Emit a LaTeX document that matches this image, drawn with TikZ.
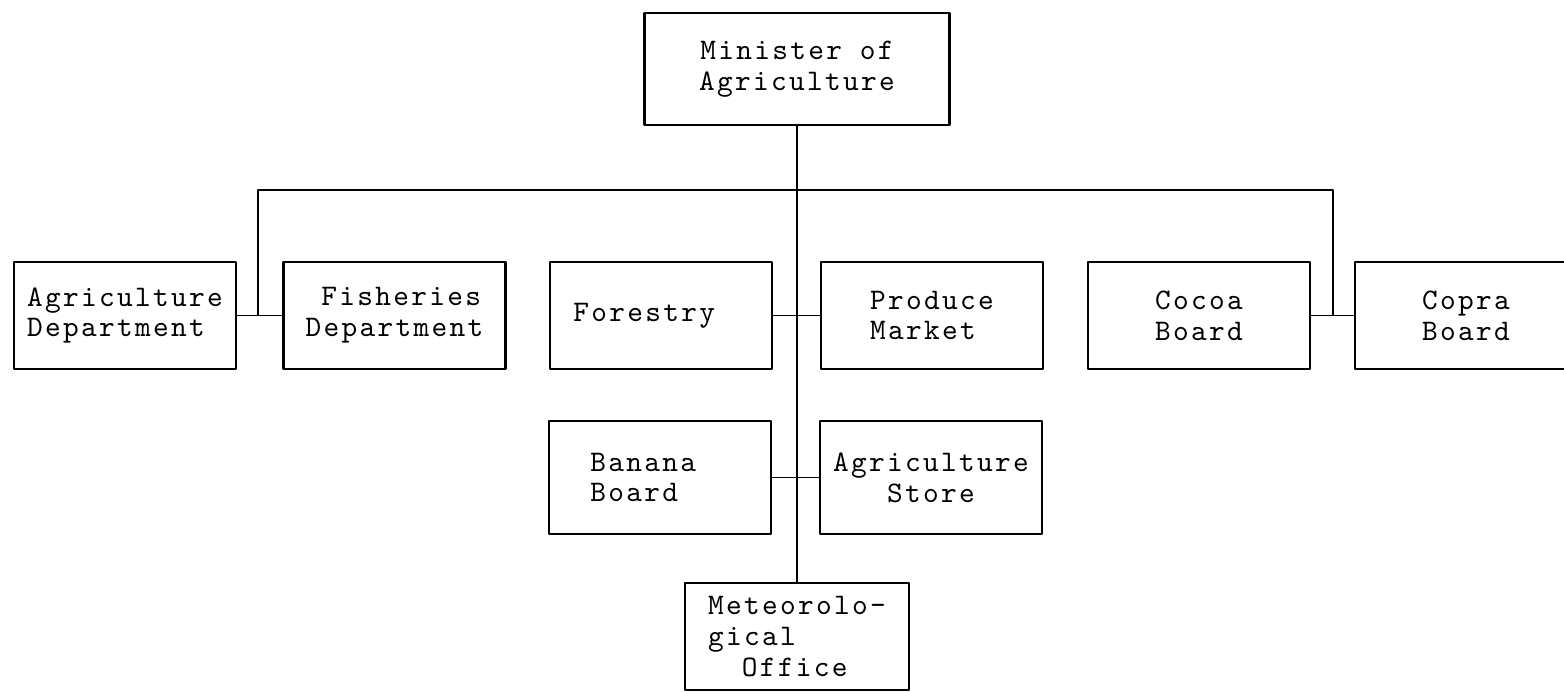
\documentclass[tikz,border=0pt]{standalone}
\usepackage{fontspec}
\setmainfont{lmmono10-regular.otf}[LetterSpace=7.7]
\usetikzlibrary{positioning,calc}

\begin{document}
\begin{tikzpicture}[
    line cap=round,
    line join=round,
    wire/.style={line width=0.8pt,black},
    unit/.style={
        draw=black,
        line width=1.3pt,
        fill=white,
        inner xsep=4pt,
        inner ysep=3pt,
        align=left,
        font=\fontsize{17}{17.5}\selectfont,
        minimum width=4.44cm,
        minimum height=2.14cm
    },
    head/.style={
        unit,
        align=center,
        minimum width=6.1cm,
        minimum height=2.24cm
    }
]
\clip (0,0) rectangle (31.28,-13.82);

% Minister.
\node[head] (min) at (15.94,-1.38) {Minister of\\Agriculture};

% Main row.
\node[unit] (agri) at (2.5,-6.31) {Agriculture\\Department};
\node[unit] (fish) at (7.89,-6.31) {\hphantom{x}Fisheries\\Department};
\node[unit] (forest) at (13.22,-6.31) {Forestry\hphantom{xx}};
\node[unit] (produce) at (18.64,-6.31) {Produce\\Market};
\node[unit,align=center] (cocoa) at (23.98,-6.31) {Cocoa\\Board};
\node[unit,align=center] (copra) at (29.32,-6.31) {Copra\\Board};

% Lower row.
\node[unit,minimum height=2.26cm] (banana) at (13.2,-9.55) {Banana\hphantom{xx}\\Board};
\node[unit,minimum height=2.26cm,align=center] (store) at (18.62,-9.55) {Agriculture\\Store};
\node[unit,minimum width=4.48cm] (met) at (15.94,-12.73) {Meteorolo-\\gical\\\hphantom{xx}Office};

% Links.
\coordinate (lsplit) at (5.16,-3.8);
\coordinate (rsplit) at (26.66,-3.8);

\draw[wire,line width=1.1pt] (min.south) -- (met.north);
\draw[wire] (lsplit |- agri) -- (lsplit) -- (rsplit) -- (rsplit |- cocoa);
\draw[wire] (agri) -- (fish);
\draw[wire] (forest) -- (produce);
\draw[wire] (cocoa) -- (copra);
\draw[wire] (banana) -- (store);

\end{tikzpicture}
\end{document}
